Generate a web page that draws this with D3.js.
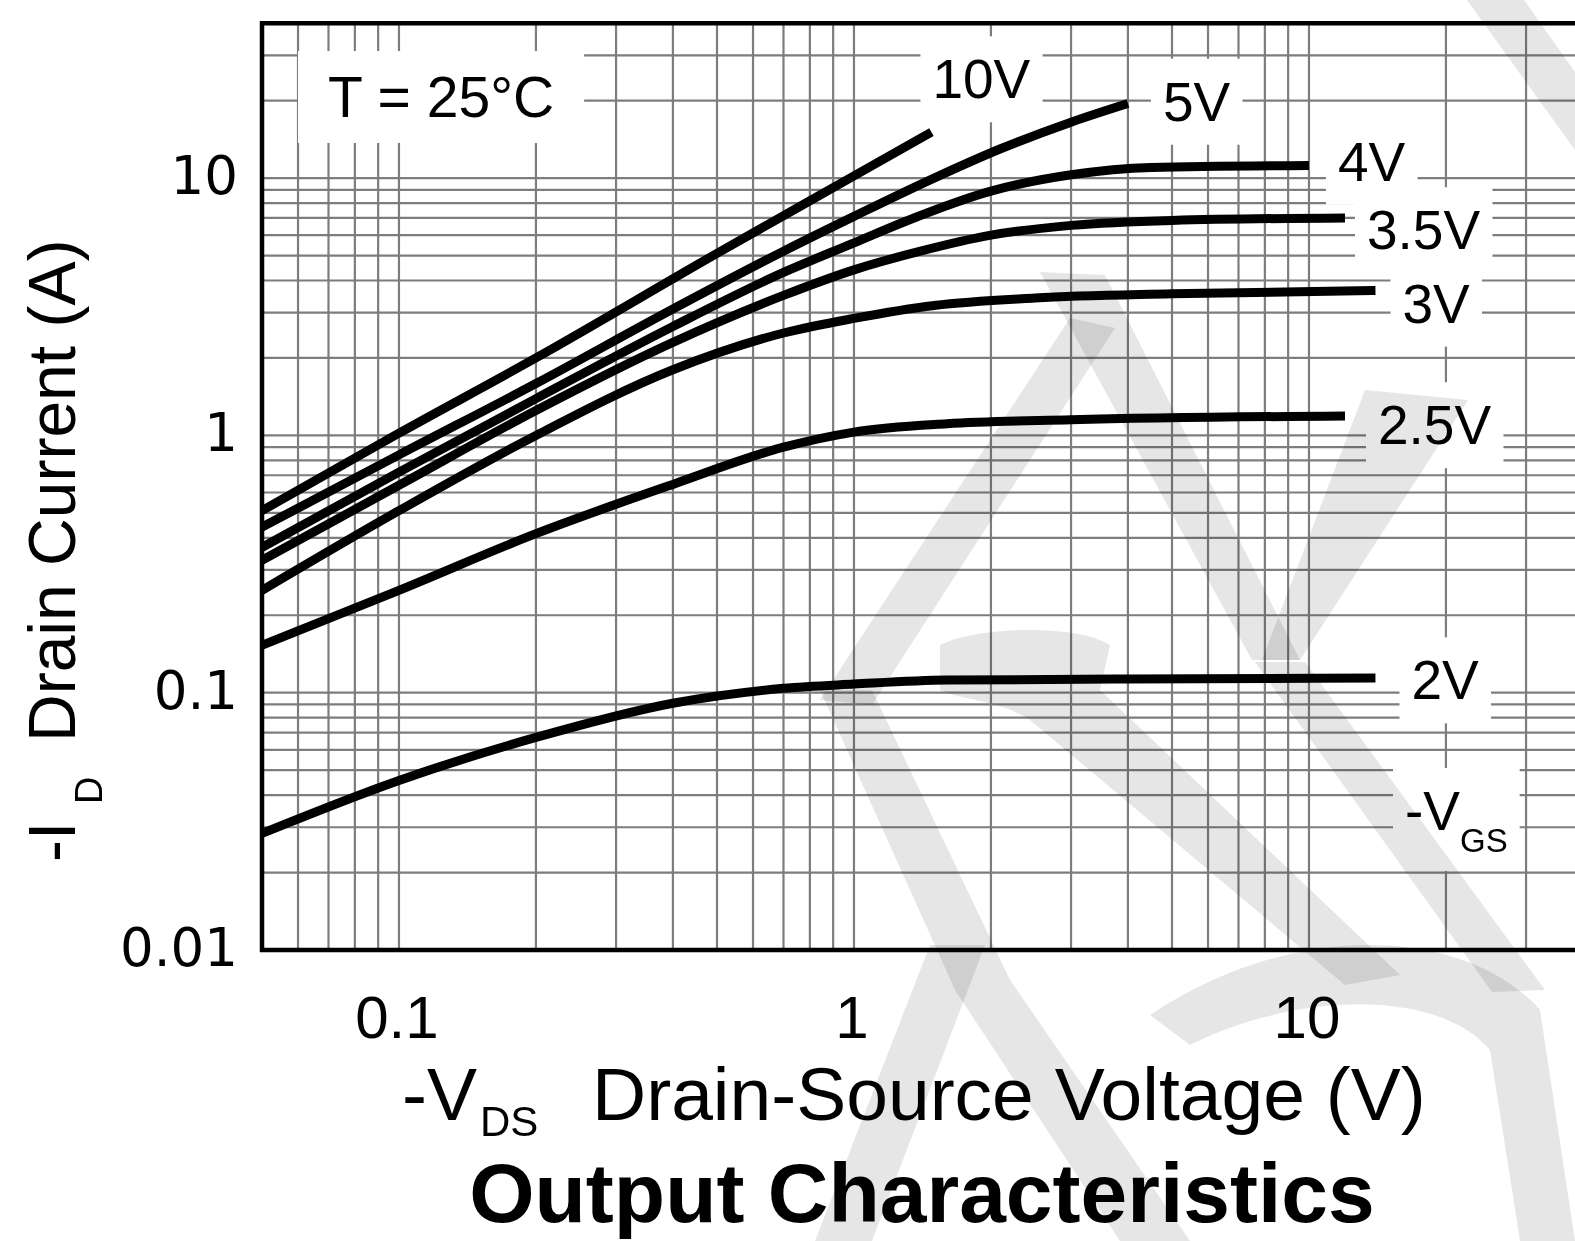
<!DOCTYPE html>
<meta charset="utf-8">
<style>
body { margin: 0; background: #fff; }
svg { display: block; }
.grid line { stroke: #7d7d7d; stroke-width: 2.2; }
.curve { fill: none; stroke: #000; stroke-width: 9; }
.lbl { font: 55px "Liberation Sans", Arial, sans-serif; fill: #000; }
.ytick { font: 53px "DejaVu Sans", sans-serif; text-anchor: end; }
.xtick { font: 60px "Liberation Sans", Arial, sans-serif; text-anchor: middle; }
.wm { fill: #e6e6e6; mix-blend-mode: multiply; }
</style>
<body>
<script src="https://cdn.jsdelivr.net/npm/d3@7"></script>
<script>

// -VGS curves: -VDS (V) against -ID (A)
var vgs = ["10V", "5V", "4V", "3.5V", "3V", "2.5V", "2V"];

var vds10 = [0.05, 0.1, 0.2, 0.5, 1, 1.48];
var id10  = [0.51, 1.02, 2.0, 5.1, 10.2, 15.1];

var vds5 = [0.05, 0.1, 0.2, 0.4, 0.7, 1, 1.5, 2.1, 3, 4];
var id5  = [0.44, 0.84, 1.59, 3.1, 5.2, 7.1, 10.0, 13.0, 16.5, 19.5];

var vds4 = [0.05, 0.1, 0.2, 0.4, 0.7, 1, 1.3, 2, 3, 4.5, 10];
var id4  = [0.367, 0.72, 1.39, 2.65, 4.3, 5.6, 6.8, 8.9, 10.3, 11.0, 11.2];

var vds35 = [0.05, 0.1, 0.2, 0.4, 0.7, 1, 1.4, 2, 3, 5, 12];
var id35  = [0.327, 0.64, 1.25, 2.3, 3.5, 4.4, 5.2, 6.0, 6.55, 6.85, 7.0];

var vds3 = [0.05, 0.1, 0.2, 0.4, 0.7, 1, 1.5, 2.5, 5, 14];
var id3  = [0.25, 0.51, 1.0, 1.8, 2.5, 2.85, 3.2, 3.42, 3.55, 3.66];

var vds25 = [0.05, 0.1, 0.2, 0.4, 0.7, 1, 1.6, 3, 12];
var id25  = [0.153, 0.25, 0.415, 0.645, 0.9, 1.03, 1.11, 1.15, 1.19];

var vds2 = [0.05, 0.1, 0.2, 0.4, 0.7, 1, 1.6, 4, 14];
var id2  = [0.0284, 0.0456, 0.067, 0.091, 0.104, 0.108, 0.112, 0.113, 0.114];

var xTicks = [0.1, 1, 10];
var xTickLabels = ["0.1", "1", "10"];
var yTicks = [0.01, 0.1, 1, 10];
var yTickLabels = ["0.01", "0.1", "1", "10"];

var series = [
  {name: vgs[0], vds: vds10, id: id10},
  {name: vgs[1], vds: vds5,  id: id5},
  {name: vgs[2], vds: vds4,  id: id4},
  {name: vgs[3], vds: vds35, id: id35},
  {name: vgs[4], vds: vds3,  id: id3},
  {name: vgs[5], vds: vds25, id: id25},
  {name: vgs[6], vds: vds2,  id: id2}
];

// label offset from the end of each curve (px)
var labelDx = [1, 35, 29, 22, 27, 33, 36],
    labelDy = [-53, -2, -4, 12, 13, 9, 2];

var width = 1575,
    height = 1241;

var x = d3.scaleLog()
    .domain([0.05, 50])
    .range([262, 262 + 455 * 3]);

var y = d3.scaleLog()
    .domain([0.01, 40])
    .range([950, 950 - 257.3 * Math.log10(4000)]);

var svg = d3.select("body").append("svg")
    .attr("width", width)
    .attr("height", height);

svg.append("rect")
    .attr("width", width)
    .attr("height", height)
    .attr("fill", "#fff");

var x0 = x.range()[0], x1 = x.range()[1],
    y0 = y.range()[0], y1 = y.range()[1];

// grid
var grid = svg.append("g").attr("class", "grid");

grid.selectAll(".vx")
    .data(x.ticks())
  .enter().append("line")
    .attr("x1", function(d) { return x(d); })
    .attr("x2", function(d) { return x(d); })
    .attr("y1", y1)
    .attr("y2", y0);

grid.selectAll(".hy")
    .data(y.ticks())
  .enter().append("line")
    .attr("x1", x0)
    .attr("x2", x1)
    .attr("y1", function(d) { return y(d); })
    .attr("y2", function(d) { return y(d); });

var boxes = svg.append("g");
var labels = svg.append("g");

// curves
var line = d3.line()
    .x(function(d) { return x(d[0]); })
    .y(function(d) { return y(d[1]); })
    .curve(d3.curveMonotoneX);

svg.selectAll(".curve")
    .data(series)
  .enter().append("path")
    .attr("class", "curve")
    .attr("d", function(s) { return line(d3.zip(s.vds, s.id)); });

// curve labels
series.forEach(function(s, i) {
  var n = s.vds.length - 1;
  labels.append("text")
      .attr("class", "lbl")
      .attr("x", x(s.vds[n]) + labelDx[i])
      .attr("y", y(s.id[n]) + labelDy[i])
      .attr("dy", ".35em")
      .text(s.name);
});

var vg = labels.append("text")
    .attr("class", "lbl")
    .attr("x", 1405)
    .attr("y", 830);
vg.append("tspan").text("-V");
vg.append("tspan").attr("dy", 22).style("font-size", "33px").text("GS");

labels.append("text")
    .attr("class", "lbl")
    .attr("x", 328)
    .attr("y", 117)
    .style("font-size", "57px")
    .text("T = 25°C");

// white boxes behind labels cut the grid
labels.selectAll("text").each(function() {
  var b = this.getBBox();
  var big = this.textContent.indexOf("T =") === 0;
  var px = big ? 30 : 12, py = big ? 20 : 18;
  boxes.append("rect")
      .attr("x", b.x - px)
      .attr("y", b.y - py + 6)
      .attr("width", b.width + 2 * px)
      .attr("height", b.height + 2 * py - 12)
      .attr("fill", "#fff");
});

// frame
svg.append("path")
    .attr("d", "M" + x1 + "," + y1 + "H" + x0 + "V" + y0 + "H" + x1)
    .attr("fill", "none")
    .attr("stroke", "#000")
    .attr("stroke-width", 4.5);

// tick labels
svg.selectAll(".xtick")
    .data(xTicks)
  .enter().append("text")
    .attr("class", "xtick")
    .attr("x", function(d) { return x(d) - 2; })
    .attr("y", y0 + 88)
    .text(function(d, i) { return xTickLabels[i]; });

svg.selectAll(".ytick")
    .data(yTicks)
  .enter().append("text")
    .attr("class", "ytick")
    .attr("x", x0 - 24)
    .attr("y", function(d) { return y(d) + 16; })
    .text(function(d, i) { return yTickLabels[i]; });

// axis titles
var xt = svg.append("g").style("font-family", "'Liberation Sans', Arial, sans-serif");
xt.append("text").attr("x", 402).attr("y", 1120).style("font-size", "75px").text("-V");
xt.append("text").attr("x", 480).attr("y", 1136).style("font-size", "42px").text("DS");
xt.append("text").attr("x", 592).attr("y", 1120).style("font-size", "75px").text("Drain-Source Voltage (V)");

var yt = svg.append("g")
    .attr("transform", "rotate(-90)")
    .style("font-family", "'Liberation Sans', Arial, sans-serif");
yt.append("text").attr("x", -862).attr("y", 75).style("font-size", "66px").text("-I");
yt.append("text").attr("x", -804).attr("y", 102).style("font-size", "38px").text("D");
yt.append("text").attr("x", -742).attr("y", 75).style("font-size", "66px").text("Drain Current (A)");

svg.append("text")
    .attr("x", 922)
    .attr("y", 1222)
    .attr("text-anchor", "middle")
    .style("font", "bold 84px 'Liberation Sans', Arial, sans-serif")
    .text("Output Characteristics");

// faint watermark
var wm = svg.append("g");
[
  "M1467,0L1524,0L1575,72L1575,150Z",
  "M1040,272L1105,275L1300,660L1252,660Z",
  "M1365,390L1468,400L1300,660L1262,660Z",
  "M1255,662L1305,662L1545,990L1492,992Z",
  "M1070,318L1115,328L872,705L820,700Z",
  "M820,690L872,690L1010,980L1190,1241L1120,1241L955,990Z",
  "M930,945L985,945L872,1241L815,1241Z",
  "M940,645C980,625 1080,625 1110,645L1100,690L1400,975L1345,985L1030,720C1000,700 960,700 940,690Z",
  "M1150,1015C1300,915 1470,930 1540,1010L1575,1241L1520,1241L1490,1050C1440,990 1300,990 1190,1045Z"
].forEach(function(d) {
  wm.append("path").attr("class", "wm").attr("d", d);
});

</script>
